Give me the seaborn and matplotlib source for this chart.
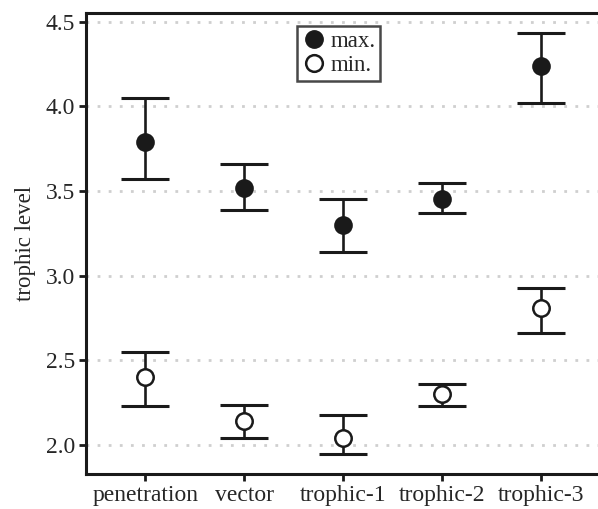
import matplotlib
matplotlib.use("Agg")
import matplotlib.pyplot as plt
import seaborn as sns
import pandas as pd
from matplotlib.lines import Line2D

categories = ["penetration", "vector", "trophic-1", "trophic-2", "trophic-3"]
max_mid = [3.79, 3.52, 3.30, 3.45, 4.24]
max_hi = [4.05, 3.66, 3.45, 3.55, 4.43]
max_lo = [3.57, 3.39, 3.14, 3.37, 4.02]
min_mid = [2.40, 2.14, 2.04, 2.30, 2.81]
min_hi = [2.55, 2.235, 2.18, 2.36, 2.93]
min_lo = [2.23, 2.04, 1.95, 2.23, 2.66]

sns.set_theme(style="white")
plt.rcParams["font.family"] = ["Liberation Serif", "DejaVu Serif"]
plt.rcParams["font.size"] = 17

fig = plt.figure(figsize=(5.98, 5.09), dpi=100)
ax = fig.add_axes([0.1438, 0.068, 0.8562, 0.9065])

df_max = pd.DataFrame({"cat": categories, "val": max_mid})
df_min = pd.DataFrame({"cat": categories, "val": min_mid})

# dotted guide lines behind everything
for yv in [2.0, 2.5, 3.0, 3.5, 4.0, 4.5]:
    ax.axhline(yv, color="#cfcfcf", lw=2.0, ls=(0, (1, 3)), zorder=0)

xs = list(range(len(categories)))
for lo, hi in [(max_lo, max_hi), (min_lo, min_hi)]:
    mid = [(a + b) / 2 for a, b in zip(lo, hi)]
    err = [[m - a for m, a in zip(mid, lo)], [b - m for m, b in zip(mid, hi)]]
    ax.errorbar(xs, mid, yerr=err, fmt="none", ecolor="#1a1a1a",
                elinewidth=1.9, capsize=17.5, capthick=2.2, zorder=2)

sns.scatterplot(data=df_max, x="cat", y="val", ax=ax, color="#1a1a1a",
                s=150, edgecolor="#1a1a1a", linewidth=1.2, zorder=3)
sns.scatterplot(data=df_min, x="cat", y="val", ax=ax, color="white",
                s=140, edgecolor="#1a1a1a", linewidth=1.8, zorder=3)

ax.set_xlim(-0.6, 4.58)
ax.set_ylim(1.827, 4.551)
ax.set_yticks([2.0, 2.5, 3.0, 3.5, 4.0, 4.5])
ax.set_yticklabels(["2.0", "2.5", "3.0", "3.5", "4.0", "4.5"])
ax.set_xlabel("")
ax.set_ylabel("trophic level", fontsize=16.5, labelpad=7)
ax.tick_params(axis="both", which="both", direction="out", length=5,
               width=2, color="#1a1a1a", labelsize=17, pad=3,
               bottom=True, left=True)
for side in ["left", "bottom", "top"]:
    ax.spines[side].set_color("#1a1a1a")
    ax.spines[side].set_linewidth(2.2)
ax.spines["right"].set_visible(False)

handles = [
    Line2D([], [], marker="o", ls="none", markersize=12.5,
           markerfacecolor="#1a1a1a", markeredgecolor="#1a1a1a"),
    Line2D([], [], marker="o", ls="none", markersize=12,
           markerfacecolor="white", markeredgecolor="#1a1a1a", markeredgewidth=1.8),
]
leg = ax.legend(handles, ["max.", "min."], loc="upper left",
                bbox_to_anchor=(0.412, 0.972), borderaxespad=0,
                frameon=True, fancybox=False, fontsize=16.5,
                handletextpad=0.15, handlelength=1.1, borderpad=0.2,
                labelspacing=0.15)
leg.get_frame().set_edgecolor("#1a1a1a")
leg.get_frame().set_linewidth(1.8)

fig.savefig("out.png", dpi=100)
